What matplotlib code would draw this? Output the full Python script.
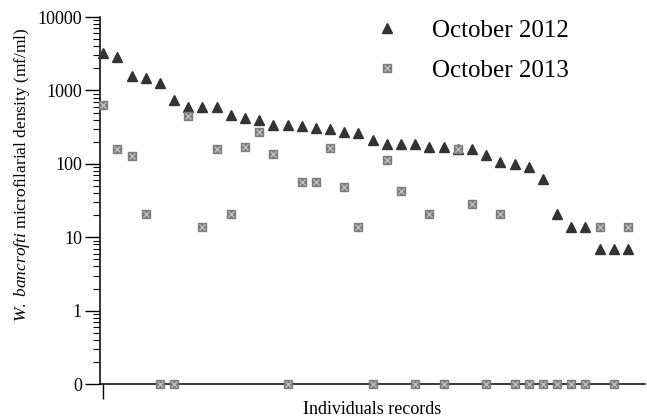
import numpy as np
import matplotlib
matplotlib.use("Agg")
import matplotlib.pyplot as plt
from matplotlib.legend_handler import HandlerTuple

plt.rcParams['font.family'] = ['Liberation Serif', 'DejaVu Serif']
plt.rcParams['mathtext.fontset'] = 'custom'
plt.rcParams['mathtext.rm'] = 'Liberation Serif'
plt.rcParams['mathtext.it'] = 'Liberation Serif:italic'

# microfilarial density per individual (mf/ml); 0 = negative
oct_2012 = [3200, 2850, 1570, 1470, 1270, 740, 600, 600, 590, 460,
            425, 395, 338, 338, 330, 310, 298, 269, 260, 211,
            186, 185, 185, 171, 168, 160, 159, 132, 105, 98,
            90, 63, 21, 14, 14, 7, 7, 7]
oct_2013 = [630, 157, 128, 21, 0, 0, 448, 14, 157, 21,
            171, 269, 135, 0, 57, 57, 163, 49, 14, 0,
            113, 43, 0, 21, 0, 159, 28, 0, 21, 0,
            0, 0, 0, 0, 0, 14, 0, 14]
zero_pos = 0.1  # where the "0" sits on the log axis

x = np.arange(len(oct_2012))
y13 = np.where(np.array(oct_2013) == 0, zero_pos, oct_2013)

fig = plt.figure(figsize=(6.47, 4.17), dpi=100)
ax = fig.add_axes([0.1546, 0.0791, 0.8424, 0.8800])

tri, = ax.plot(x, oct_2012, linestyle='none', marker='^', markersize=6.5,
               color='#333333', clip_on=False, zorder=3)
sq, = ax.plot(x, y13, linestyle='none', marker='s', markersize=6,
              color='#7d7d7d', clip_on=False, zorder=3)
sqx, = ax.plot(x, y13, linestyle='none', marker='x', markersize=4.5,
               markeredgewidth=1.0, color='#bdbdbd', clip_on=False, zorder=4)

ax.set_yscale('log')
ax.set_ylim(zero_pos, 10000)
ax.set_xlim(-0.22, 38.2)
ax.set_yticks([0.1, 1, 10, 100, 1000, 10000])
ax.set_yticklabels(['0', '1', '10', '100', '1000', '10000'])
ax.yaxis.set_minor_locator(matplotlib.ticker.LogLocator(base=10, subs=np.arange(2, 10)))
ax.yaxis.set_minor_formatter(matplotlib.ticker.NullFormatter())
ax.tick_params(axis='y', which='major', length=11, width=1, labelsize=13, pad=2)
ax.tick_params(axis='y', which='minor', length=5, width=0.8)
ax.set_xticks([0])
ax.set_xticklabels([''])
ax.tick_params(axis='x', length=11, width=1)

for s in ['top', 'right']:
    ax.spines[s].set_visible(False)
for s in ['left', 'bottom']:
    ax.spines[s].set_linewidth(1.1)

ax.set_xlabel('Individuals records', fontsize=13)
ax.xaxis.set_label_coords(0.5, -0.045)
ax.set_ylabel(r'$\it{W.\ bancrofti}$ microfilarial density (mf/ml)', fontsize=12.5)
ax.yaxis.set_label_coords(-0.125, 0.57)

ax.legend([tri, (sq, sqx)], ['October 2012', 'October 2013'],
          handler_map={tuple: HandlerTuple(ndivide=1)},
          loc='upper left', bbox_to_anchor=(362 / 647, 1 - 7 / 417),
          bbox_transform=fig.transFigure, frameon=False, borderpad=0,
          fontsize=18, labelspacing=0.7, handlelength=1.0, handletextpad=1.3)

fig.savefig('out.png', dpi=100)
